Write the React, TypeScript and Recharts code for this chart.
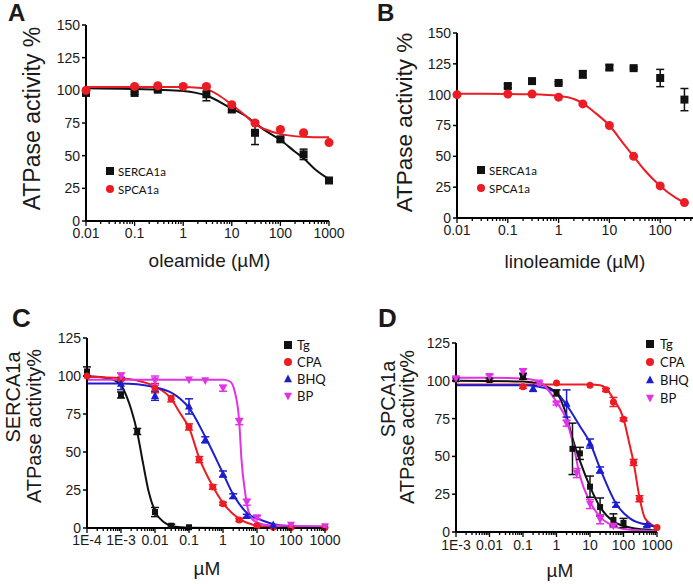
import React from 'react';
import { ComposedChart, Line, Scatter, XAxis, YAxis, ErrorBar, Legend } from 'recharts';

const BLACK = '#111111';
const RED = '#ec1c24';
const BLUE = '#1d1dcf';
const MAGENTA = '#e033e6';
const FONT = '"Liberation Sans", Arial, Helvetica, sans-serif';
const LEGEND_FONT = 'Lato, "Open Sans", sans-serif';

// ---------- A: oleamide ----------
const aDecades = [0.01, 0.1, 1, 10, 100, 1000];
const aTickLabels = ['0.01', '0.1', '1', '10', '100', '1000'];
const aYTicks = [0, 25, 50, 75, 100, 125, 150];

const oleSercaConc = [0.01, 0.1, 0.3, 3, 10, 30, 100, 300, 1000];
const oleSercaPct = [98, 98, 100.5, 97, 85.5, 67.5, 62.5, 51, 31];
const oleSercaErr = [1, 1, 1, 5, 2.5, 9, 1.5, 4, 2];
const oleSpcaConc = [0.01, 0.1, 0.3, 1, 3, 10, 30, 100, 300, 1000];
const oleSpcaPct = [100, 103, 103.5, 103, 103, 89, 75, 70, 67.5, 60];
const oleSpcaErr = [1, 1, 1, 1, 1, 1, 1, 1, 1, 1];

const oleSercaFitConc = [0.01, 0.1, 0.3, 1, 3, 10, 20, 30, 50, 100, 200, 300, 500, 1000];
const oleSercaFitPct = [101.5, 101, 100.5, 99.5, 96, 86, 80, 75, 69, 62, 53, 48, 40, 32];
const oleSpcaFitConc = [0.01, 0.1, 1, 2, 3, 5, 10, 20, 30, 50, 100, 300, 1000];
const oleSpcaFitPct = [102.5, 102.5, 102.5, 102, 101, 97, 89, 80, 74, 70, 66.5, 64.5, 64];

// ---------- B: linoleamide (axis runs past the right edge) ----------
const bDecades = [0.01, 0.1, 1, 10, 100];
const bTickLabels = ['0.01', '0.1', '1', '10', '100'];
const bXMax = 1000;

const linoSercaConc = [0.1, 0.3, 1, 3, 10, 30, 100, 300];
const linoSercaPct = [107, 111, 109.5, 116.5, 122, 121.5, 113.5, 96];
const linoSercaErr = [1.5, 2, 1, 3, 2, 1, 7, 9];
const linoSpcaConc = [0.01, 0.1, 0.3, 1, 3, 10, 30, 100, 300];
const linoSpcaPct = [100, 100.5, 100.5, 98, 92.5, 75, 50, 26, 12.5];
const linoSpcaFitConc = [0.01, 0.1, 0.3, 1, 2, 3, 5, 10, 20, 30, 50, 100, 200, 300];
const linoSpcaFitPct = [100.7, 100.6, 100.3, 99, 96.5, 93, 86, 75, 59, 50, 38.5, 26, 16.5, 12.5];

// ---------- C: SERCA1a inhibitors ----------
const cDecades = [1e-4, 1e-3, 0.01, 0.1, 1, 10, 100, 1000];
const cTickLabels = ['1E-4', '1E-3', '0.01', '0.1', '1', '10', '100', '1000'];
const cdYTicks = [0, 25, 50, 75, 100, 125];

const cTgConc = [1e-4, 1e-3, 3e-3, 0.01, 0.03, 0.1];
const cTgPct = [103, 87.5, 63.5, 10.5, 1.5, 0.5];
const cTgErr = [3, 2, 2, 3, 1, 0];
const cTgFitConc = [1e-4, 3e-4, 6e-4, 1e-3, 1.5e-3, 2e-3, 3e-3, 4.5e-3, 6.5e-3, 0.01, 0.018, 0.035, 0.1, 1, 1000];
const cTgFitPct = [99.8, 99, 97.5, 94, 86, 78, 63, 42, 24, 11, 4, 1, 0.2, 0, 0];

const cCpaConc = [1e-4, 1e-3, 0.01, 0.03, 0.1, 0.2, 0.5, 1, 3, 10, 30, 100, 1000];
const cCpaPct = [100, 98, 92, 85, 66.5, 45, 27, 16, 5.3, 1.5, 0.5, 0.3, 0.3];
const cCpaErr = [0, 1, 3, 2, 2, 2, 1.5, 1, 1, 0, 0, 0, 0];
const cCpaFitConc = [1e-4, 1e-3, 3e-3, 0.01, 0.03, 0.055, 0.1, 0.2, 0.5, 1, 3, 8, 30, 1000];
const cCpaFitPct = [99.5, 98.5, 97, 93, 85, 75.5, 66, 46, 27.5, 16.5, 6, 2, 0.5, 0.2];

const cBhqConc = [1e-3, 0.01, 0.1, 0.3, 1, 2, 5, 30];
const cBhqPct = [95, 87, 80, 58, 35.5, 21, 8, 2];
const cBhqErr = [4, 3, 5, 2, 2, 1.5, 1, 0];
const cBhqFitConc = [1e-4, 1e-3, 3e-3, 0.01, 0.03, 0.055, 0.1, 0.3, 1, 2, 5, 15, 50, 1000];
const cBhqFitPct = [95, 95, 94.5, 92.5, 89, 85, 79, 60, 36, 22, 10, 4.8, 1.7, 0.3];

const cBpConc = [1e-3, 0.01, 0.1, 0.3, 1, 3, 5, 10, 100, 1000];
const cBpPct = [100, 97, 97.5, 97, 92, 70, 17, 7, 2, 1];
const cBpErr = [2, 3, 0, 0, 2, 2, 2, 1, 0, 0];
const cBpFitConc = [1e-4, 0.01, 0.1, 1, 1.6, 2.2, 3, 3.5, 4.5, 5.6, 7.9, 19.5, 100, 1000];
const cBpFitPct = [97.5, 97.5, 97.5, 97.5, 96.5, 90, 70, 45, 23, 11, 5, 2, 1.5, 1.2];

// ---------- D: SPCA1a inhibitors ----------
const dDecades = [1e-3, 0.01, 0.1, 1, 10, 100, 1000];
const dTickLabels = ['1E-3', '0.01', '0.1', '1', '10', '100', '1000'];

const dTgConc = [1e-3, 0.01, 0.1, 1, 3, 5, 10, 20, 50, 100];
const dTgPct = [101, 100.5, 103, 92, 55, 52, 30, 16.5, 8, 6];
const dTgErr = [1, 1, 2, 2, 17, 4, 7, 6, 4, 3];
const dTgFitConc = [1e-3, 0.1, 0.3, 1, 1.8, 3, 5, 10, 20, 50, 155, 1000];
const dTgFitPct = [100, 99.5, 98, 92, 80, 62, 47, 30, 16.5, 7, 3, 1];

const dCpaConc = [0.1, 1, 10, 30, 50, 100, 200, 300, 1000];
const dCpaPct = [96, 98.5, 97, 94, 86, 74.5, 46, 22, 3];
const dCpaErr = [1, 0, 0, 1, 3, 1, 2, 2, 0];
const dCpaFitConc = [1e-3, 10, 20, 30, 50, 100, 155, 200, 300, 440, 1000];
const dCpaFitPct = [97.5, 97.5, 97, 95, 88, 75, 57, 46, 23, 9, 3];

const dBhqConc = [0.2, 2, 10, 20, 60, 500];
const dBhqPct = [95, 85, 58.5, 41, 18, 4.5];
const dBhqErr = [2, 9, 3, 2, 1.5, 1];
const dBhqFitConc = [1e-3, 0.1, 0.3, 1, 2, 5, 10, 20, 63, 155, 550, 1000];
const dBhqFitPct = [97, 97, 96, 92, 84, 70, 59, 42, 18, 9, 4.5, 3.5];

const dBpConc = [1e-3, 0.01, 0.1, 0.3, 1, 2, 4, 10, 20, 50];
const dBpPct = [101.5, 103, 106, 98.7, 85, 72, 39, 18.5, 8.4, 4];
const dBpErr = [1, 1, 2, 1, 1, 2, 3, 3, 3, 1];
const dBpFitConc = [1e-3, 0.01, 0.1, 0.3, 1, 2, 3.3, 5, 10, 20, 50, 100, 1000];
const dBpFitPct = [102, 102, 101.5, 99.5, 86, 74, 56, 37, 20, 10, 4, 2, 0.5];

// ---------- helpers ----------
type Pt = { x: number; y: number; err: number };
type Shape = 'square' | 'circle' | 'up' | 'down';
type SeriesDef = { name: string; shape: Shape; color: string; size: number; points: Pt[]; fit?: Pt[] };

const zip = (xs: number[], ys: number[], es?: number[]): Pt[] =>
  xs.map((x, i) => ({ x, y: ys[i], err: es ? es[i] : 0 }));

const PAGE_W = 693;
const PAGE_H = 584;
const Y_W = 50;
const X_H = 30;

function Marker({ shape, cx, cy, size, color }: { shape: Shape; cx: number; cy: number; size: number; color: string }) {
  const h = size / 2;
  if (shape === 'square') return <rect x={cx - h} y={cy - h} width={size} height={size} fill={color} />;
  if (shape === 'circle') return <circle cx={cx} cy={cy} r={h} fill={color} />;
  if (shape === 'up')
    return <polygon points={`${cx},${cy - h * 1.1} ${cx - h},${cy + h * 0.8} ${cx + h},${cy + h * 0.8}`} fill={color} />;
  return <polygon points={`${cx},${cy + h * 1.1} ${cx - h},${cy - h * 0.8} ${cx + h},${cy - h * 0.8}`} fill={color} />;
}

type LegendCfg = { left: number; top: number; rowH: number; fontSize: number; gap: number; markerSize: number };

type PanelProps = {
  width: number;
  plot: { left: number; top: number; right: number; bottom: number };
  decades: number[];
  labels: string[];
  xMax?: number;
  labelDy: number;
  yMax: number;
  yTicks: number[];
  series: SeriesDef[];
  legend: LegendCfg;
};

function LogPanel({ width, plot, decades, labels, xMax, labelDy, yMax, yTicks, series, legend }: PanelProps) {
  const top = xMax ?? decades[decades.length - 1];
  const ticks: number[] = [];
  decades.forEach((d) => {
    ticks.push(d);
    if (d < top) for (let m = 2; m <= 9; m++) ticks.push(d * m);
  });

  const renderTick = (props: any) => {
    const { x, y, payload } = props;
    const idx = decades.findIndex((d) => Math.abs(d - payload.value) / d < 1e-6);
    const major = idx >= 0;
    return (
      <g>
        <line x1={x} x2={x} y1={y} y2={y + (major ? 5 : 3)} stroke="#000" strokeWidth={1.3} />
        {major && (
          <text x={x} y={y + labelDy} textAnchor="middle" fontSize={14} fontFamily={FONT} fill="#1a1a1a">
            {labels[idx]}
          </text>
        )}
      </g>
    );
  };

  // legend rows follow the series order, not the payload's sorted order
  const renderLegend = (props: any) => {
    const names = new Set((props.payload || []).map((e: any) => e.value));
    return (
      <div style={{ fontFamily: LEGEND_FONT, fontSize: legend.fontSize, color: '#111' }}>
        {series
          .filter((s) => names.has(s.name))
          .map((s) => (
            <div key={s.name} style={{ display: 'flex', alignItems: 'center', height: legend.rowH }}>
              <svg width={12} height={12} style={{ marginRight: legend.gap, flex: 'none' }}>
                <Marker shape={s.shape} cx={6} cy={6} size={legend.markerSize} color={s.color} />
              </svg>
              <span>{s.name}</span>
            </div>
          ))}
      </div>
    );
  };

  return (
    <div style={{ position: 'absolute', left: 0, top: 0 }}>
      <ComposedChart
        width={width}
        height={PAGE_H}
        margin={{ top: plot.top, right: width - plot.right, bottom: PAGE_H - plot.bottom - X_H, left: plot.left - Y_W }}
      >
        <XAxis
          dataKey="x"
          type="number"
          scale="log"
          domain={[decades[0], top]}
          ticks={ticks}
          interval={0}
          height={X_H}
          tickSize={0}
          tickMargin={0}
          tickLine={false}
          tick={renderTick}
          axisLine={{ stroke: '#000', strokeWidth: 2 }}
        />
        <YAxis
          dataKey="y"
          type="number"
          domain={[0, yMax]}
          ticks={yTicks}
          interval={0}
          width={Y_W}
          tickSize={4}
          tickMargin={2}
          tick={{ fontSize: 14, fill: '#1a1a1a', fontFamily: FONT }}
          tickLine={{ stroke: '#000', strokeWidth: 1.5 }}
          axisLine={{ stroke: '#000', strokeWidth: 2 }}
        />
        {series
          .filter((s) => s.fit)
          .map((s) => (
            <Line
              key={`fit-${s.name}`}
              data={s.fit}
              dataKey="y"
              type="monotone"
              stroke={s.color}
              strokeWidth={2}
              dot={false}
              legendType="none"
              isAnimationActive={false}
            />
          ))}
        {series.map((s) => (
          <Scatter
            key={s.name}
            name={s.name}
            data={s.points}
            dataKey="y"
            fill={s.color}
            isAnimationActive={false}
            shape={(p: any) => <Marker shape={s.shape} cx={p.cx} cy={p.cy} size={s.size} color={s.color} />}
          >
            <ErrorBar dataKey="err" direction="y" width={4} stroke={s.color} strokeWidth={1.5} />
          </Scatter>
        ))}
        <Legend
          layout="vertical"
          align="center"
          verticalAlign="middle"
          content={renderLegend}
          wrapperStyle={{ left: legend.left, top: legend.top, width: 90 }}
        />
      </ComposedChart>
    </div>
  );
}

const panelA: SeriesDef[] = [
  { name: 'SERCA1a', shape: 'square', color: BLACK, size: 8, points: zip(oleSercaConc, oleSercaPct, oleSercaErr), fit: zip(oleSercaFitConc, oleSercaFitPct) },
  { name: 'SPCA1a', shape: 'circle', color: RED, size: 9, points: zip(oleSpcaConc, oleSpcaPct, oleSpcaErr), fit: zip(oleSpcaFitConc, oleSpcaFitPct) },
];

const panelB: SeriesDef[] = [
  { name: 'SERCA1a', shape: 'square', color: BLACK, size: 8, points: zip(linoSercaConc, linoSercaPct, linoSercaErr) },
  { name: 'SPCA1a', shape: 'circle', color: RED, size: 9, points: zip(linoSpcaConc, linoSpcaPct), fit: zip(linoSpcaFitConc, linoSpcaFitPct) },
];

const panelC: SeriesDef[] = [
  { name: 'Tg', shape: 'square', color: BLACK, size: 6, points: zip(cTgConc, cTgPct, cTgErr), fit: zip(cTgFitConc, cTgFitPct) },
  { name: 'CPA', shape: 'circle', color: RED, size: 7, points: zip(cCpaConc, cCpaPct, cCpaErr), fit: zip(cCpaFitConc, cCpaFitPct) },
  { name: 'BHQ', shape: 'up', color: BLUE, size: 8, points: zip(cBhqConc, cBhqPct, cBhqErr), fit: zip(cBhqFitConc, cBhqFitPct) },
  { name: 'BP', shape: 'down', color: MAGENTA, size: 8, points: zip(cBpConc, cBpPct, cBpErr), fit: zip(cBpFitConc, cBpFitPct) },
];

const panelD: SeriesDef[] = [
  { name: 'Tg', shape: 'square', color: BLACK, size: 6, points: zip(dTgConc, dTgPct, dTgErr), fit: zip(dTgFitConc, dTgFitPct) },
  { name: 'CPA', shape: 'circle', color: RED, size: 7, points: zip(dCpaConc, dCpaPct, dCpaErr), fit: zip(dCpaFitConc, dCpaFitPct) },
  { name: 'BHQ', shape: 'up', color: BLUE, size: 8, points: zip(dBhqConc, dBhqPct, dBhqErr), fit: zip(dBhqFitConc, dBhqFitPct) },
  { name: 'BP', shape: 'down', color: MAGENTA, size: 8, points: zip(dBpConc, dBpPct, dBpErr), fit: zip(dBpFitConc, dBpFitPct) },
];

const titleStyle = { fontFamily: FONT, fill: '#1a1a1a' } as const;

export default function App() {
  return (
    <div
      style={{
        position: 'fixed',
        left: 0,
        top: 0,
        width: PAGE_W,
        height: PAGE_H,
        overflow: 'hidden',
        background: '#fff',
      }}
    >
      <LogPanel
        width={PAGE_W}
        plot={{ left: 86, top: 25, right: 329, bottom: 221 }}
        decades={aDecades}
        labels={aTickLabels}
        labelDy={17}
        yMax={150}
        yTicks={aYTicks}
        series={panelA}
        legend={{ left: 104, top: 162, rowH: 18, fontSize: 11.5, gap: 2, markerSize: 8 }}
      />
      <LogPanel
        width={740}
        plot={{ left: 457, top: 33, right: 711, bottom: 218 }}
        decades={bDecades}
        labels={bTickLabels}
        xMax={bXMax}
        labelDy={17}
        yMax={150}
        yTicks={aYTicks}
        series={panelB}
        legend={{ left: 475, top: 161, rowH: 18, fontSize: 11.5, gap: 2, markerSize: 8 }}
      />
      <LogPanel
        width={PAGE_W}
        plot={{ left: 87, top: 338, right: 325, bottom: 528 }}
        decades={cDecades}
        labels={cTickLabels}
        labelDy={17}
        yMax={125}
        yTicks={cdYTicks}
        series={panelC}
        legend={{ left: 282, top: 336, rowH: 17, fontSize: 13, gap: 3, markerSize: 8 }}
      />
      <LogPanel
        width={PAGE_W}
        plot={{ left: 456, top: 343, right: 657, bottom: 532 }}
        decades={dDecades}
        labels={dTickLabels}
        labelDy={18}
        yMax={125}
        yTicks={cdYTicks}
        series={panelD}
        legend={{ left: 644, top: 335, rowH: 18, fontSize: 13, gap: 4, markerSize: 8 }}
      />
      <svg width={PAGE_W} height={PAGE_H} style={{ position: 'absolute', left: 0, top: 0, pointerEvents: 'none' }}>
        <text x={8} y={21} fontSize={24} fontWeight="bold" {...titleStyle}>A</text>
        <text x={377} y={21} fontSize={24} fontWeight="bold" {...titleStyle}>B</text>
        <text x={12} y={327} fontSize={26} fontWeight="bold" {...titleStyle}>C</text>
        <text x={378} y={327} fontSize={26} fontWeight="bold" {...titleStyle}>D</text>

        <text transform="translate(40,118.5) rotate(-90)" textAnchor="middle" fontSize={23} {...titleStyle}>ATPase activity %</text>
        <text x={209.5} y={267} textAnchor="middle" fontSize={19} {...titleStyle}>oleamide (µM)</text>

        <text transform="translate(412,122.5) rotate(-90)" textAnchor="middle" fontSize={22.5} {...titleStyle}>ATPase activity %</text>
        <text x={575} y={268} textAnchor="middle" fontSize={19} {...titleStyle}>linoleamide (µM)</text>

        <text transform="translate(20,397) rotate(-90)" textAnchor="middle" fontSize={20} {...titleStyle}>SERCA1a</text>
        <text transform="translate(41,426) rotate(-90)" textAnchor="middle" fontSize={20} {...titleStyle}>ATPase activity%</text>
        <text x={207} y={575} textAnchor="middle" fontSize={19} {...titleStyle}>µM</text>

        <text transform="translate(395,399) rotate(-90)" textAnchor="middle" fontSize={20} {...titleStyle}>SPCA1a</text>
        <text transform="translate(414,427) rotate(-90)" textAnchor="middle" fontSize={20} {...titleStyle}>ATPase activity%</text>
        <text x={560} y={577} textAnchor="middle" fontSize={19} {...titleStyle}>µM</text>
      </svg>
    </div>
  );
}
